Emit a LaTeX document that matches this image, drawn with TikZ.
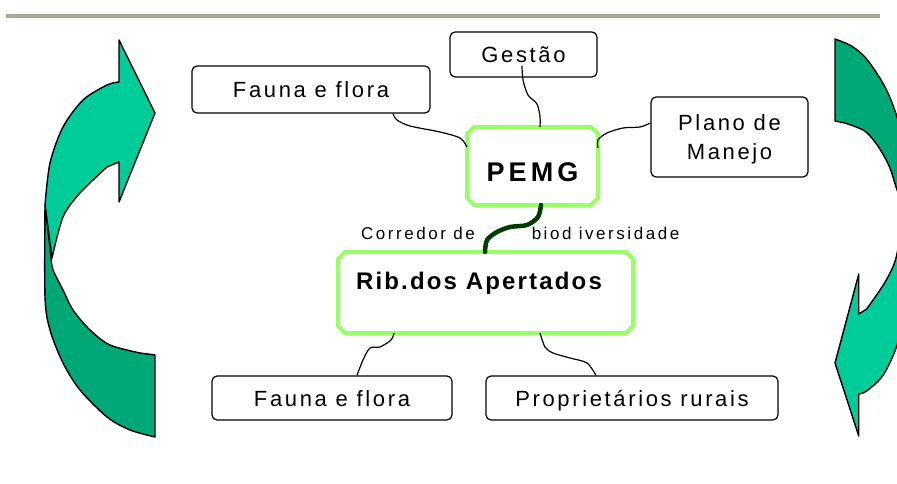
\documentclass[tikz,border=0pt]{standalone}
\usepackage{fontspec}
\newfontfamily\lsf{Liberation Sans}[LetterSpace=12]
\definecolor{lightarrow}{RGB}{0,204,153}
\definecolor{darkarrow}{RGB}{0,168,120}
\definecolor{boxgreen}{RGB}{153,255,102}
\definecolor{corridor}{RGB}{0,60,0}
\definecolor{rulegray}{RGB}{170,168,152}
\tikzset{
  plainbox/.style={draw=black, line width=1.2pt, rounded corners=5pt, rectangle,
    font=\lsf\fontsize{22}{29}\selectfont, text height=16pt, text depth=0pt, inner sep=0pt},
  greenbox/.style={rectangle, inner sep=0pt, outer sep=0pt},
  greenline/.style={draw=boxgreen, line width=4pt, line join=round},
  conn/.style={draw=black, line width=1.2pt},
  thickconn/.style={draw=corridor, line width=4.5pt, line cap=round},
  smalltext/.style={font=\lsf\addfontfeature{LetterSpace=15}\fontsize{17}{20}\selectfont, text height=12pt, text depth=0pt, inner sep=0pt},
  arrowline/.style={draw=black, line width=1.4pt, line join=round}
}
\newcommand{\chamferbox}[2]{%
  \draw[greenline] ([xshift=#2pt]#1.north west) -- ([xshift=-#2pt]#1.north east)
    -- ([yshift=-#2pt]#1.north east) -- ([yshift=#2pt]#1.south east)
    -- ([xshift=-#2pt]#1.south east) -- ([xshift=#2pt]#1.south west)
    -- ([yshift=#2pt]#1.south west) -- ([yshift=-#2pt]#1.north west) -- cycle;}
\newcommand{\cyclearrow}{%
  \filldraw[arrowline, fill=lightarrow]
    plot[smooth] coordinates {(45,205) (50,163) (63,127) (83,100) (107,85) (119,82)}
    -- (119,40) -- (155,113) -- (119,202) -- (119,162)
    -- plot[smooth] coordinates {(107,167) (80,193) (63,217) (52,258)}
    -- cycle;
  \filldraw[arrowline, fill=darkarrow]
    plot[smooth] coordinates {(45,205) (45,297) (50,330) (63,363) (80,390) (107,417) (130,430) (155,437)}
    -- (155,355)
    -- plot[smooth] coordinates {(140,353) (110,345) (90,330) (73,310) (63,290) (53,270) (51,257)}
    -- cycle;
}
\begin{document}
\begin{tikzpicture}[x=1pt,y=-1pt]
\useasboundingbox (0,0) rectangle (897,484);
\fill[white] (0,0) rectangle (897,484);
\clip (0,0) rectangle (897,484);

% top rule
\draw[rulegray, line width=4pt] (6,16) -- (880,16);

% curved arrows
\cyclearrow
\begin{scope}[xshift=937.3pt, yshift=-476pt, xscale=-0.66, yscale=-1]
\cyclearrow
\end{scope}

% nodes
\node[plainbox, minimum width=147pt, minimum height=45pt] (gestao) at (523.5,54.5) {Gestão};
\node[plainbox, minimum width=238pt, minimum height=47pt] (fauna1) at (311,89.5) {Fauna e flora};
\node[plainbox, minimum width=157pt, minimum height=80pt, align=center, text height=45pt, text depth=0pt] (plano) at (729.5,137) {Plano de\\Manejo};
\node[greenbox, minimum width=131pt, minimum height=78pt,
      font=\lsf\addfontfeature{LetterSpace=15}\bfseries\fontsize{27}{30}\selectfont,
      text height=32pt, text depth=0pt] (pemg) at (532.5,166) {PEMG};
\chamferbox{pemg}{7}
\node[greenbox, minimum width=295pt, minimum height=81pt,
      font=\lsf\addfontfeature{LetterSpace=9}\bfseries\fontsize{24}{28}\selectfont,
      text height=17pt, text depth=24pt] (rib) at (485.5,292.5) {Rib.dos Apertados\hspace*{13pt}};
\chamferbox{rib}{7}
\node[plainbox, minimum width=240pt, minimum height=44pt] (fauna2) at (332,398) {Fauna e flora};
\node[plainbox, minimum width=292pt, minimum height=44pt] (prop) at (632,398) {Proprietários rurais};

\node[smalltext] (corr1) at (418,233.5) {Corredor de};
\node[smalltext] (corr2) at (605.5,233.5) {biod iversidade};

% connectors
\draw[conn] plot[smooth] coordinates {([xshift=82pt]fauna1.south) (397,120) (410,126) (440,132) (460,138) ([yshift=19pt]pemg.west)};
\draw[conn] plot[smooth] coordinates {([xshift=-1.5pt,yshift=12pt]gestao.south) (523,80) (528,95) (537,104) (540,117) ([xshift=7.5pt]pemg.north)};
\draw[conn] plot[smooth] coordinates {([yshift=14pt]plano.west) (640,127) (623,128) (607,133) (598,140) ([yshift=18pt]pemg.east)};
\draw[thickconn] plot[smooth] coordinates {([xshift=8.5pt]pemg.south) (538,217) (527,225) (510,227) (497,232) (487,240) ([xshift=-0.5pt]rib.north)};
\draw[conn] plot[smooth] coordinates {([xshift=-91.5pt]rib.south) (391,340) (380,347) (370,348) (363,360) ([xshift=25pt]fauna2.north)};
\draw[conn] plot[smooth] coordinates {([xshift=54.5pt]rib.south) (545,347) (553,353) (570,358) (587,363) ([xshift=-36pt]prop.north)};
\end{tikzpicture}
\end{document}
